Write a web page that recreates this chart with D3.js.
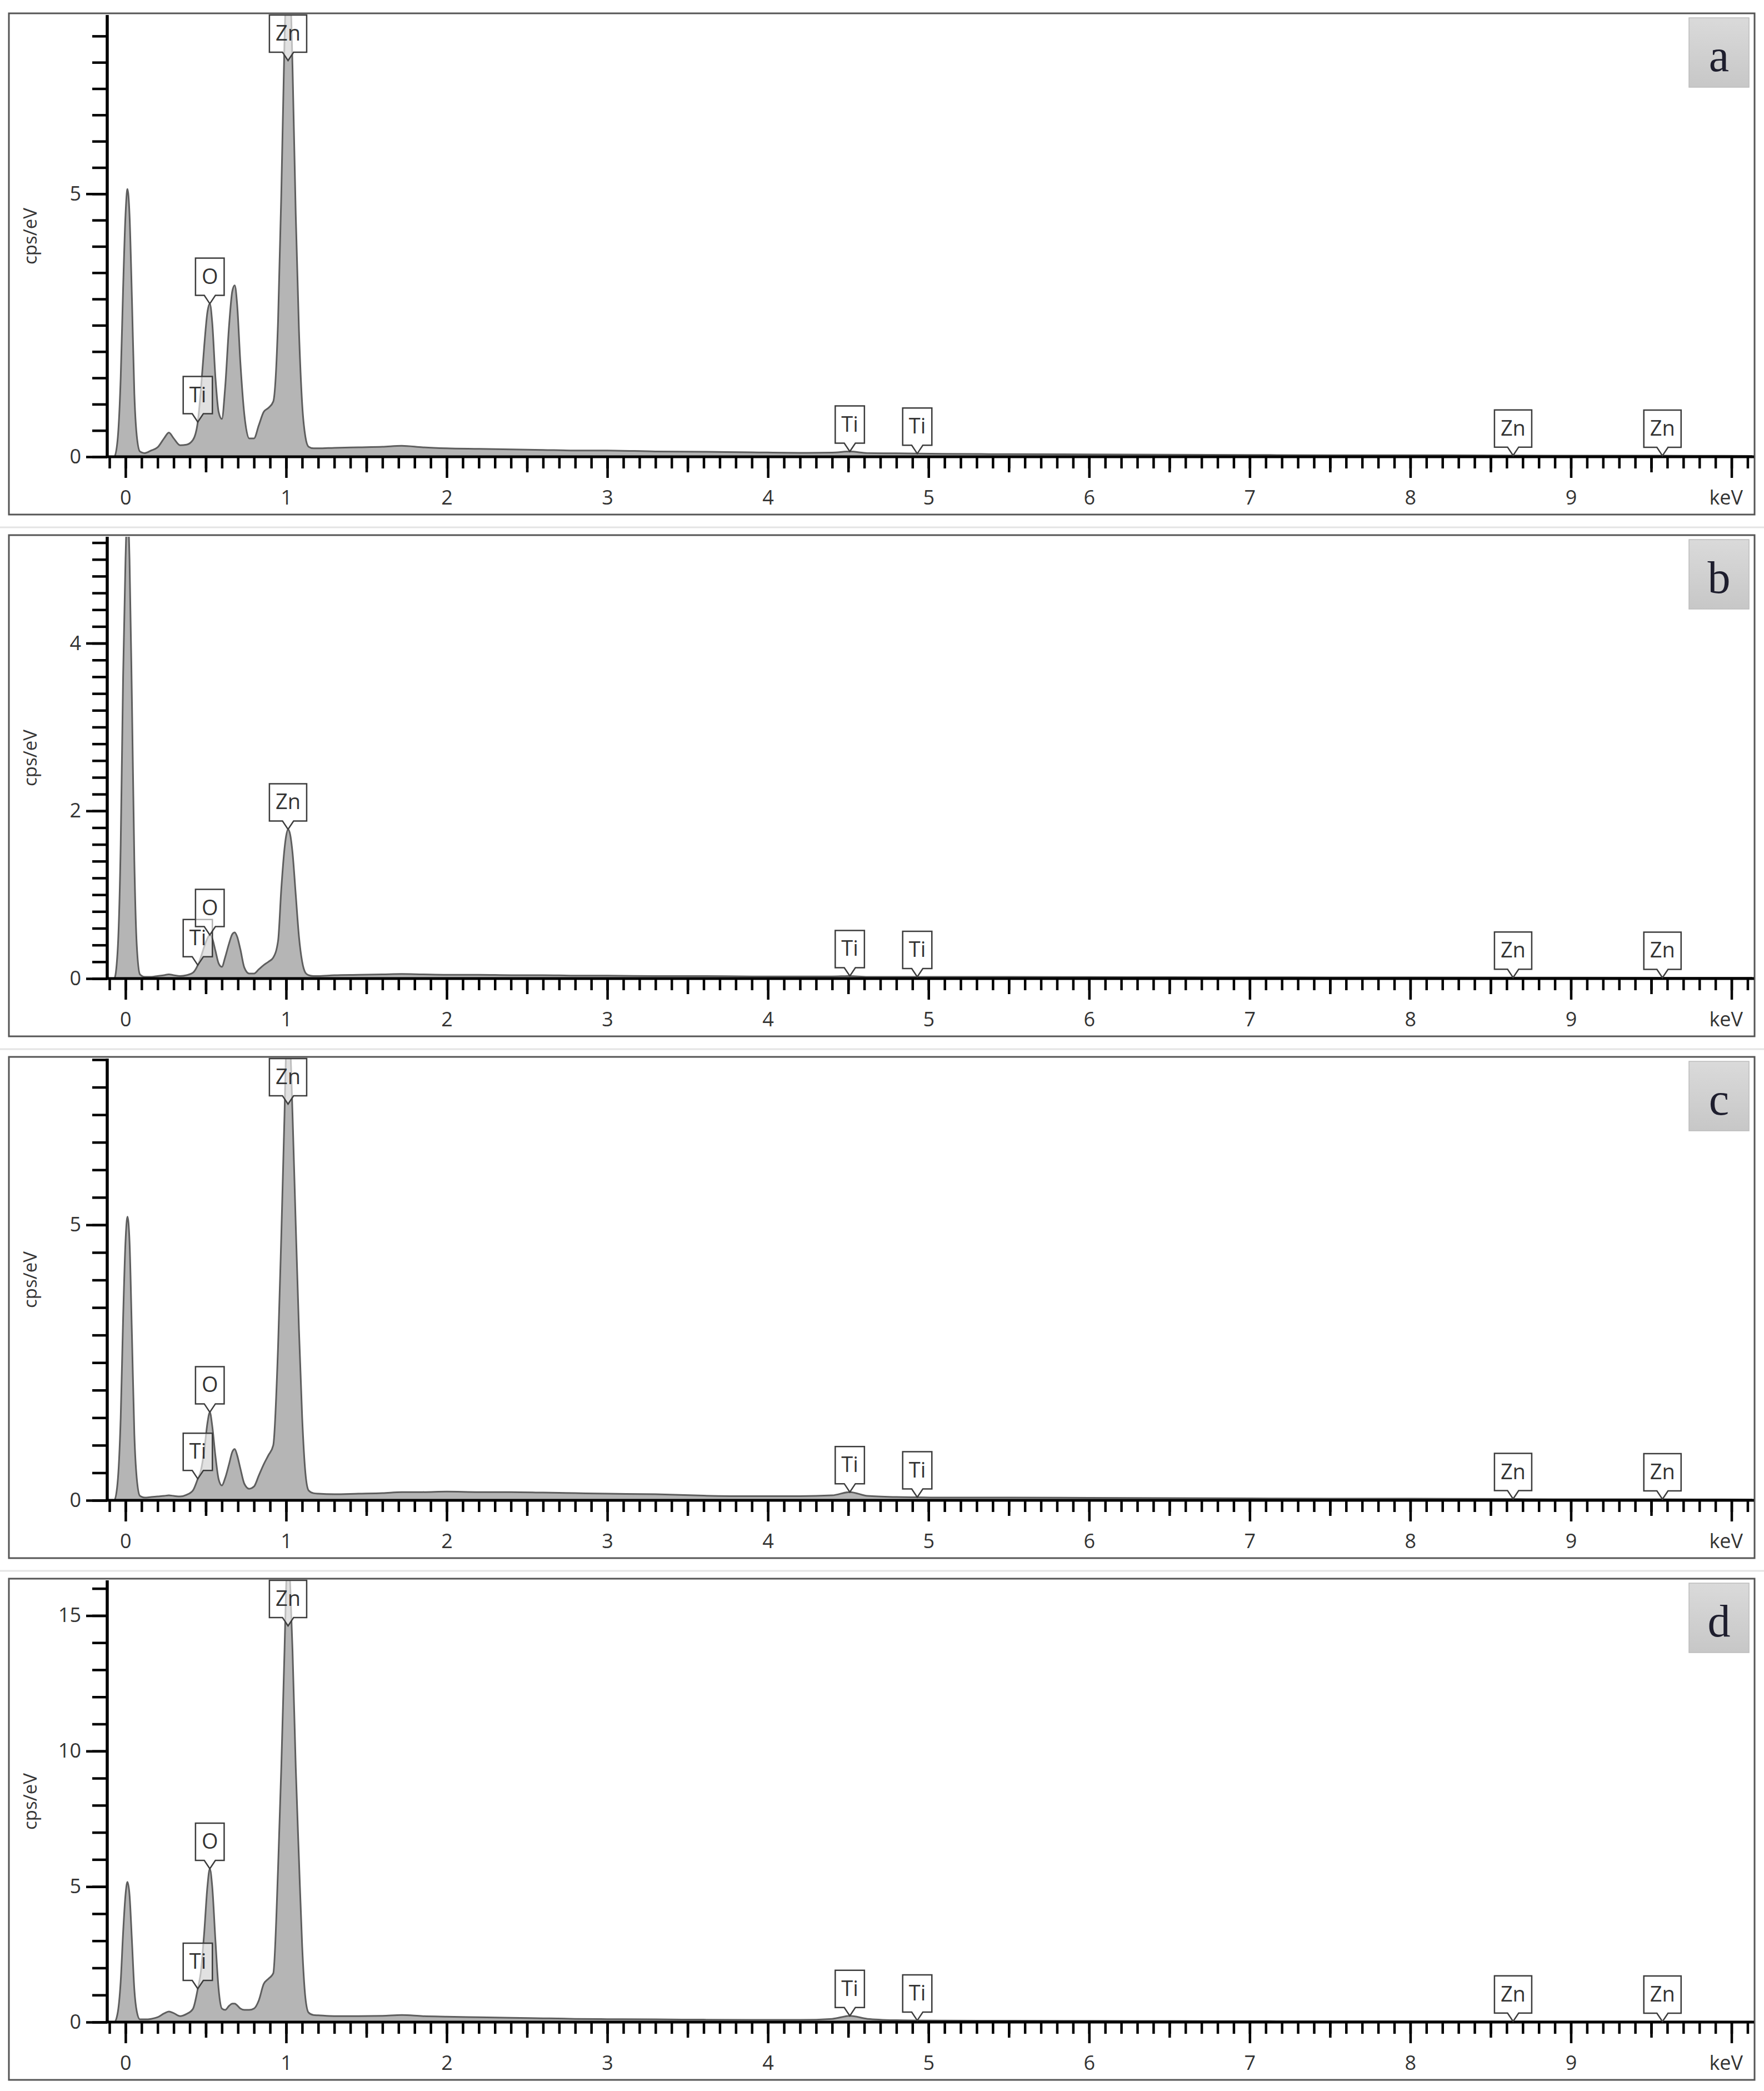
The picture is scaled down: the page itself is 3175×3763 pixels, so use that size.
<!DOCTYPE html>
<html><head><meta charset="utf-8">
<script src="https://cdn.jsdelivr.net/npm/d3@7"></script>
<style>body{margin:0;background:#fff} svg{display:block}</style>
</head><body>
<script>
// ---------- DATA ----------
const energy = [
 -0.1, -0.07, -0.05, -0.03, -0.015, 0, 0.012, 0.025, 0.04, 0.055,
 0.07, 0.09, 0.12, 0.16, 0.2, 0.24, 0.27, 0.3, 0.34, 0.38,
 0.42, 0.45, 0.47, 0.49, 0.51, 0.525, 0.54, 0.56, 0.58, 0.6,
 0.62, 0.645, 0.665, 0.68, 0.695, 0.715, 0.74, 0.77, 0.8, 0.83,
 0.86, 0.89, 0.92, 0.95, 0.97, 0.99, 1.0, 1.012, 1.025, 1.04,
 1.06, 1.08, 1.1, 1.12, 1.14, 1.17, 1.2, 1.3, 1.45, 1.6,
 1.72, 1.85, 2.0, 2.2, 2.4, 2.6, 2.8, 3.0, 3.3, 3.6,
 3.9, 4.2, 4.4, 4.51, 4.62, 4.8, 4.93, 5.1, 5.5, 6.0,
 6.5, 7.0, 7.5, 8.0, 8.64, 9.0, 9.57, 10.13
];
const spectrumA = [
 0, 0, 0.3, 1.5, 3.2, 4.6, 5.09, 4.6, 3.0, 1.2,
 0.4, 0.1, 0.07, 0.12, 0.18, 0.35, 0.46, 0.35, 0.22, 0.23,
 0.32, 0.66, 1.3, 2.1, 2.75, 2.91, 2.55, 1.5, 0.85, 0.72,
 1.3, 2.5, 3.15, 3.26, 2.9, 1.8, 0.8, 0.35, 0.35, 0.6,
 0.85, 0.93, 1.05, 2.6, 5.0, 7.9, 9.0, 9.5, 9.0, 7.4,
 4.6, 2.4, 1.0, 0.38, 0.19, 0.16, 0.16, 0.17, 0.18, 0.19,
 0.21, 0.18, 0.16, 0.15, 0.14, 0.13, 0.12, 0.12, 0.1, 0.095,
 0.085, 0.075, 0.08, 0.1, 0.07, 0.065, 0.06, 0.055, 0.05, 0.045,
 0.04, 0.035, 0.03, 0.03, 0.025, 0.02, 0.02, 0.015
];
const spectrumB = [
 0, 0, 0.3, 1.6, 3.6, 5.0, 5.6, 5.0, 3.3, 1.4,
 0.4, 0.05, 0.02, 0.02, 0.03, 0.04, 0.05, 0.04, 0.03, 0.04,
 0.07, 0.16, 0.26, 0.38, 0.48, 0.52, 0.48, 0.33, 0.18, 0.14,
 0.25, 0.42, 0.53, 0.55, 0.5, 0.35, 0.13, 0.06, 0.06, 0.11,
 0.16, 0.2, 0.25, 0.45, 1.07, 1.55, 1.7, 1.78, 1.72, 1.5,
 1.0, 0.5, 0.2, 0.07, 0.04, 0.03, 0.03, 0.04, 0.045, 0.05,
 0.055, 0.05, 0.045, 0.045, 0.04, 0.04, 0.035, 0.035, 0.03, 0.03,
 0.025, 0.025, 0.025, 0.03, 0.02, 0.02, 0.02, 0.02, 0.02, 0.018,
 0.016, 0.015, 0.014, 0.013, 0.012, 0.011, 0.01, 0.01
];
const spectrumC = [
 0, 0, 0.3, 1.5, 3.3, 4.7, 5.15, 4.7, 3.0, 1.2,
 0.4, 0.08, 0.05, 0.06, 0.07, 0.08, 0.09, 0.08, 0.07, 0.1,
 0.18, 0.39, 0.55, 0.9, 1.4, 1.6, 1.35, 0.8, 0.38, 0.27,
 0.4, 0.66, 0.88, 0.93, 0.82, 0.58, 0.3, 0.21, 0.25, 0.45,
 0.65, 0.82, 1.0, 2.8, 4.8, 7.0, 8.2, 8.8, 8.3, 7.0,
 5.0, 3.1, 1.5, 0.5, 0.18, 0.13, 0.12, 0.11, 0.12, 0.13,
 0.15, 0.15, 0.16, 0.15, 0.15, 0.14, 0.13, 0.12, 0.11, 0.085,
 0.075, 0.075, 0.09, 0.15, 0.08, 0.06, 0.055, 0.05, 0.05, 0.045,
 0.04, 0.035, 0.03, 0.03, 0.025, 0.02, 0.02, 0.015
];
const spectrumD = [
 0, 0, 0.3, 1.5, 3.3, 4.7, 5.17, 4.7, 3.0, 1.2,
 0.4, 0.1, 0.1, 0.12, 0.18, 0.32, 0.39, 0.33, 0.22, 0.3,
 0.49, 1.23, 1.9, 3.3, 5.0, 5.66, 5.0, 3.0, 1.2, 0.5,
 0.45, 0.6, 0.68, 0.68, 0.62, 0.5, 0.45, 0.45, 0.5, 0.8,
 1.4, 1.6, 1.8, 5.7, 9.4, 13.7, 16.0, 17.5, 16.2, 13.7,
 9.4, 6.0, 2.8, 0.9, 0.35, 0.26, 0.25, 0.22, 0.22, 0.23,
 0.26, 0.22, 0.2, 0.18, 0.16, 0.14, 0.12, 0.11, 0.1, 0.09,
 0.08, 0.08, 0.12, 0.23, 0.12, 0.07, 0.06, 0.055, 0.05, 0.045,
 0.04, 0.035, 0.03, 0.03, 0.025, 0.02, 0.02, 0.015
];
const spectra = [spectrumA, spectrumB, spectrumC, spectrumD];
const panelLetters = ['a', 'b', 'c', 'd'];
const yMaxima = [8.4, 5.27, 8.02, 16.3];
const yTickSteps = [0.5, 0.2, 0.5, 1];
const yLabelValues = [[0, 5], [0, 2, 4], [0, 5], [0, 5, 10, 15]];
const xMajorTicks = [0, 1, 2, 3, 4, 5, 6, 7, 8, 9, 10];
const xTickLabels = ['0', '1', '2', '3', '4', '5', '6', '7', '8', '9', 'keV'];
const peakElements = ['Ti', 'O', 'Zn', 'Ti', 'Ti', 'Zn', 'Zn'];
const peakEnergies = [0.45, 0.525, 1.012, 4.51, 4.93, 8.64, 9.57];
const yAxisTitle = 'cps/eV';

// ---------- LAYOUT ----------
const W = 3175, H = 3763;
const firstTop = 24, pitch = 939;
const svg = d3.select('body').append('svg').attr('width', W).attr('height', H)
  .style('background', '#fff');
const defs = svg.append('defs');
const grad = defs.append('linearGradient').attr('id', 'lbgrad')
  .attr('x1', 0).attr('y1', 0).attr('x2', 0).attr('y2', 1);
grad.append('stop').attr('offset', '0%').attr('stop-color', '#dadada');
grad.append('stop').attr('offset', '100%').attr('stop-color', '#c7c7c7');

const x = d3.scaleLinear().domain([-0.1, 10.14]).range([197, 3157]);
const FONT = "'Open Sans', 'DejaVu Sans', sans-serif";

function interp(arr, e) {
  for (let i = 0; i < energy.length - 1; i++) {
    if (e >= energy[i] && e <= energy[i + 1]) {
      const t = (e - energy[i]) / (energy[i + 1] - energy[i]);
      return arr[i] + t * (arr[i + 1] - arr[i]);
    }
  }
  return 0;
}

panelLetters.forEach((letter, p) => {
  const T = firstTop + p * pitch;
  const g = svg.append('g');
  const plotTop = T + 3, zeroY = T + 798;
  const y = d3.scaleLinear().domain([0, yMaxima[p]]).range([zeroY, plotTop]);

  if (p > 0) {
    g.append('line').attr('x1', 0).attr('x2', W).attr('y1', T - 14).attr('y2', T - 14)
      .attr('stroke', '#e4e4e4').attr('stroke-width', 3);
  }
  // panel frame
  g.append('rect').attr('x', 16).attr('y', T).attr('width', 3142).attr('height', 902)
    .attr('fill', '#fff').attr('stroke', '#555').attr('stroke-width', 3);

  // clip
  const cid = 'clip' + p;
  defs.append('clipPath').attr('id', cid).append('rect')
    .attr('x', 194).attr('y', plotTop).attr('width', 2963).attr('height', zeroY - plotTop);

  const data = energy.map((e, i) => ({ e, v: spectra[p][i] }));
  const area = d3.area().x(d => x(d.e)).y0(y(0)).y1(d => y(d.v)).curve(d3.curveMonotoneX);
  const line = d3.line().x(d => x(d.e)).y(d => y(d.v)).curve(d3.curveMonotoneX);
  const sg = g.append('g').attr('clip-path', `url(#${cid})`);
  sg.append('path').datum(data).attr('d', area).attr('fill', '#b5b5b5');
  sg.append('path').datum(data).attr('d', line).attr('fill', 'none')
    .attr('stroke', '#5e5e5e').attr('stroke-width', 3).attr('stroke-linejoin', 'round');

  // x axis ticks
  const minorX = d3.range(-1, 102).map(k => k / 10).filter(v => v <= 10.14);
  const halfX = xMajorTicks.map(v => v + 0.5).filter(v => v <= 10.14);
  const styleTicks = sel => {
    sel.select('.domain').remove();
    sel.selectAll('.tick line').attr('stroke', '#000').attr('stroke-width', 4.5);
  };
  g.append('g').attr('transform', `translate(0,${zeroY})`)
    .call(d3.axisBottom(x).tickValues(minorX).tickSize(21).tickFormat('')).call(styleTicks);
  g.append('g').attr('transform', `translate(0,${zeroY})`)
    .call(d3.axisBottom(x).tickValues(halfX).tickSize(28).tickFormat('')).call(styleTicks);
  const xa = g.append('g').attr('transform', `translate(0,${zeroY})`)
    .call(d3.axisBottom(x).tickValues(xMajorTicks).tickSize(38).tickPadding(22)
      .tickFormat((d, i) => xTickLabels[i])).call(styleTicks);
  xa.selectAll('text').attr('font-family', FONT).attr('font-size', 36).attr('fill', '#333');
  xa.selectAll('.tick').filter(d => d === 10).select('text').attr('text-anchor', 'end')
    .attr('dx', 20);

  // y axis ticks
  const minorY = d3.range(0, yMaxima[p] + 1e-9, yTickSteps[p]).map(v => +v.toFixed(3));
  const ya1 = g.append('g').attr('transform', 'translate(193,0)')
    .call(d3.axisLeft(y).tickValues(minorY).tickSize(27).tickFormat('')).call(styleTicks);
  const ya2 = g.append('g').attr('transform', 'translate(193,0)')
    .call(d3.axisLeft(y).tickValues(yLabelValues[p]).tickSize(38).tickPadding(9)
      .tickFormat(d3.format('d'))).call(styleTicks);
  ya2.selectAll('text').attr('font-family', FONT).attr('font-size', 36).attr('fill', '#333');

  // axis lines
  g.append('line').attr('x1', 191).attr('x2', 3157).attr('y1', zeroY).attr('y2', zeroY)
    .attr('stroke', '#000').attr('stroke-width', 5);
  g.append('line').attr('x1', 193).attr('x2', 193).attr('y1', plotTop).attr('y2', zeroY + 2)
    .attr('stroke', '#000').attr('stroke-width', 5.5);

  // y title
  g.append('text').attr('transform', `translate(66,${T + 401}) rotate(-90)`)
    .attr('text-anchor', 'middle').attr('font-family', FONT).attr('font-size', 33)
    .attr('fill', '#333').text(yAxisTitle);

  // peak callouts
  const boxH = 67, ptrH = 15, ptrW = 10;
  peakElements.forEach((el, i) => {
    const e = peakEnergies[i];
    const v = interp(spectra[p], e);
    const cx = x(e);
    const tipY = Math.max(y(Math.min(v, yMaxima[p])), plotTop + boxH + ptrH);
    const lg = g.append('g');
    const path = lg.append('path');
    const txt = lg.append('text').attr('x', cx).attr('y', tipY - ptrH - 21)
      .attr('text-anchor', 'middle').attr('font-family', FONT).attr('font-size', 38)
      .attr('fill', '#333').text(el);
    const w = txt.node().getComputedTextLength() + 22;
    const bTop = tipY - ptrH - boxH, bBot = tipY - ptrH;
    const L = cx - w / 2, R = cx + w / 2;
    path.attr('d', `M${L},${bTop}H${R}V${bBot}H${cx + ptrW}L${cx},${tipY}L${cx - ptrW},${bBot}H${L}Z`)
      .attr('fill', 'rgba(255,255,255,0.6)').attr('stroke', '#3c3c3c').attr('stroke-width', 2.5);
  });

  // panel letter
  g.append('rect').attr('x', 3040).attr('y', T + 8).attr('width', 108).attr('height', 125)
    .attr('fill', 'url(#lbgrad)').attr('stroke', '#bcbcbc').attr('stroke-width', 1.5);
  g.append('text').attr('x', 3094).attr('y', T + 104).attr('text-anchor', 'middle')
    .attr('font-family', "'Liberation Serif', 'Times New Roman', serif").attr('font-size', 82)
    .attr('fill', '#1e1e2e').text(letter);
});
</script>
</body></html>
